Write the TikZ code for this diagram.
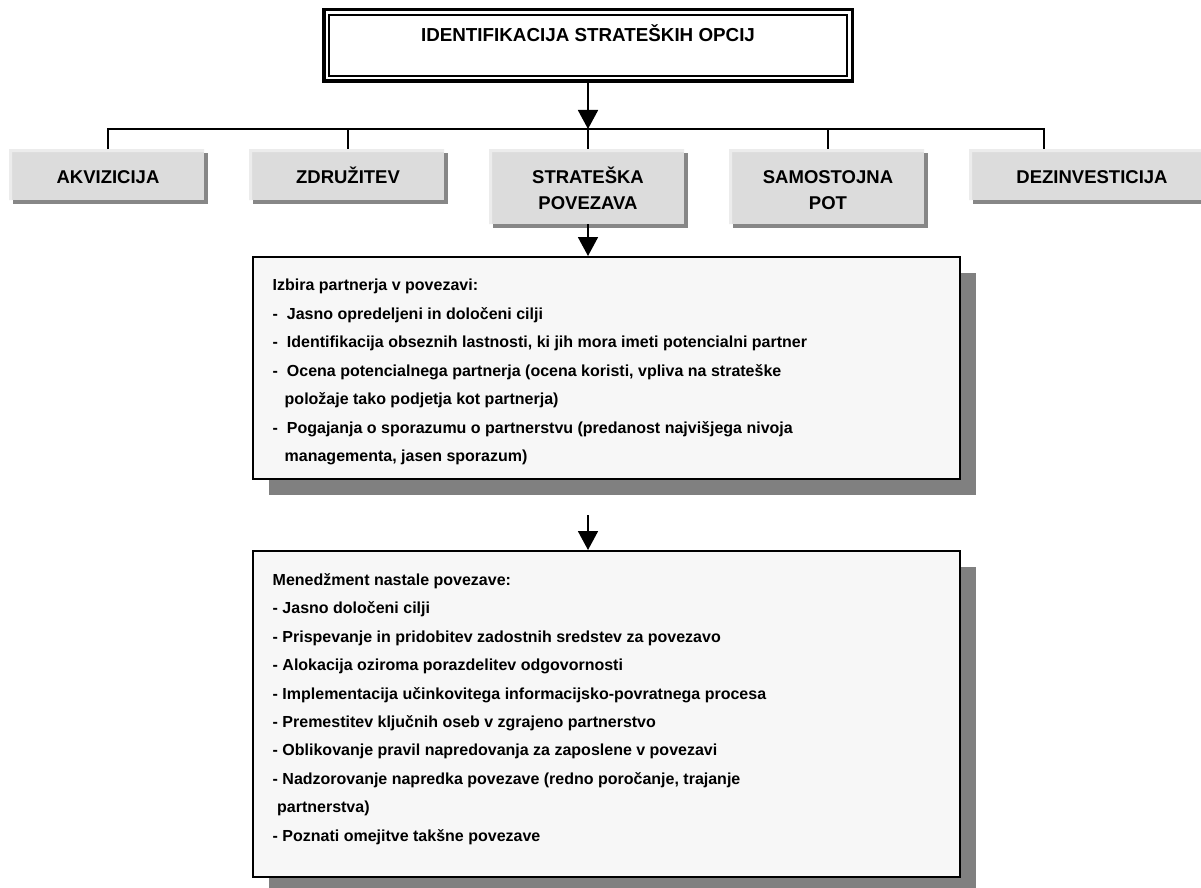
\documentclass[tikz,border=0pt]{standalone}
\usepackage{fontspec}
\setmainfont{Liberation Sans}
\usetikzlibrary{arrows.meta,shadows}

\definecolor{optgray}{HTML}{DCDCDC}
\definecolor{optlight}{HTML}{ECECEC}
\definecolor{optshade}{HTML}{878787}
\definecolor{boxfill}{HTML}{F7F7F7}
\definecolor{boxshade}{HTML}{808080}

\begin{document}
\begin{tikzpicture}[x=1pt,y=-1pt,
  link/.style={line width=1.8pt},
  arr/.style={link,-{Triangle[width=20pt,length=19pt]}},
  optbox/.style={anchor=north west, fill=optgray, inner sep=0, minimum width=195pt,
    drop shadow={shadow xshift=3.5pt,shadow yshift=-3.5pt,fill=optshade,opacity=1},
    path picture={\fill[optlight] (path picture bounding box.south west)
      -- (path picture bounding box.north west)
      -- (path picture bounding box.north east)
      -- ([yshift=-3pt]path picture bounding box.north east)
      -- ([shift={(3pt,-3pt)}]path picture bounding box.north west)
      -- ([xshift=3pt]path picture bounding box.south west) -- cycle;}},
  opttext/.style={anchor=base, inner sep=0, font=\fontsize{18.5}{22}\selectfont\bfseries},
  bigbox/.style={draw, line width=2pt, fill=boxfill, anchor=north west, inner sep=0,
    minimum width=707pt,
    drop shadow={shadow xshift=16pt,shadow yshift=-16pt,fill=boxshade,opacity=1}},
  itemtext/.style={anchor=base west, inner sep=0, font=\fontsize{16}{18}\selectfont\bfseries}
]
\useasboundingbox (0,0) rectangle (1201,888);
\clip (0,0) rectangle (1201,888);
\fill[white] (0,0) rectangle (1201,888);

% heading box with a double frame
\node[draw, line width=3.5pt, minimum width=528.5pt, minimum height=71.5pt, inner sep=0]
  (top) at (588,45.5) {};
\draw[line width=2pt] (329,15) rectangle (847,76);
\node[opttext, font=\fontsize{18.8}{22}\selectfont\bfseries] (title) at (588,41.5)
  {IDENTIFIKACIJA STRATEŠKIH OPCIJ};

% strategic options
\node[optbox, minimum height=51pt] (akv) at (9,149) {};
\node[optbox, minimum height=51pt] (zdr) at (249,149) {};
\node[optbox, minimum height=75pt] (str) at (489,149) {};
\node[optbox, minimum height=75pt] (sam) at (729,149) {};
\node[optbox, minimum height=51pt, minimum width=246pt] (dez) at (969,149) {};

\node[opttext] (akv-t) at (108,183) {AKVIZICIJA};
\node[opttext] (zdr-t) at (348,183) {ZDRUŽITEV};
\node[opttext] (str-t1) at (588,183.5) {STRATEŠKA};
\node[opttext] (str-t2) at (588,209.5) {POVEZAVA};
\node[opttext] (sam-t1) at (828,183.5) {SAMOSTOJNA};
\node[opttext] (sam-t2) at (828,209.5) {POT};
\node[opttext] (dez-t) at (1092,183) {DEZINVESTICIJA};

% detail boxes
\node[bigbox, minimum height=222pt] (b1) at (252,256) {};
\node[bigbox, minimum height=326pt] (b2) at (252,550) {};

\foreach \ln [count=\k from 0] in {
  {Izbira partnerja v povezavi:},
  {-~~Jasno opredeljeni in določeni cilji},
  {-~~Identifikacija obseznih lastnosti, ki jih mora imeti potencialni partner},
  {-~~Ocena potencialnega partnerja (ocena koristi, vpliva na strateške},
  {\hspace*{12pt}položaje tako podjetja kot partnerja)},
  {-~~Pogajanja o sporazumu o partnerstvu (predanost najvišjega nivoja},
  {\hspace*{12pt}managementa, jasen sporazum)}}
  \node[itemtext] (b1-\k) at (272.5,{290.5+28.5*\k}) {\ln};

\foreach \ln [count=\k from 0] in {
  {Menedžment nastale povezave:},
  {- Jasno določeni cilji},
  {- Prispevanje in pridobitev zadostnih sredstev za povezavo},
  {- Alokacija oziroma porazdelitev odgovornosti},
  {- Implementacija učinkovitega informacijsko-povratnega procesa},
  {- Premestitev ključnih oseb v zgrajeno partnerstvo},
  {- Oblikovanje pravil napredovanja za zaposlene v povezavi},
  {- Nadzorovanje napredka povezave (redno poročanje, trajanje},
  {~partnerstva)},
  {- Poznati omejitve takšne povezave}}
  \node[itemtext] (b2-\k) at (272.5,{585.5+28.4*\k}) {\ln};

% connectors
\coordinate (ja) at (108,129);
\coordinate (jb) at (348,129);
\coordinate (jc) at (588,129);
\coordinate (jd) at (828,129);
\coordinate (je) at (1044,129);
\draw[link] (ja |- akv.north) -- (ja) -- (je) -- (je |- dez.north);
\draw[link] (jb) -- (jb |- zdr.north);
\draw[link] (jc) -- (jc |- str.north);
\draw[link] (jd) -- (jd |- sam.north);
\draw[arr] (top.south) -- (jc);
\draw[arr] (jc |- str.south) -- (jc |- b1.north);
\draw[arr, shorten <=35pt] (jc |- b1.south) -- (jc |- b2.north);
\end{tikzpicture}
\end{document}
